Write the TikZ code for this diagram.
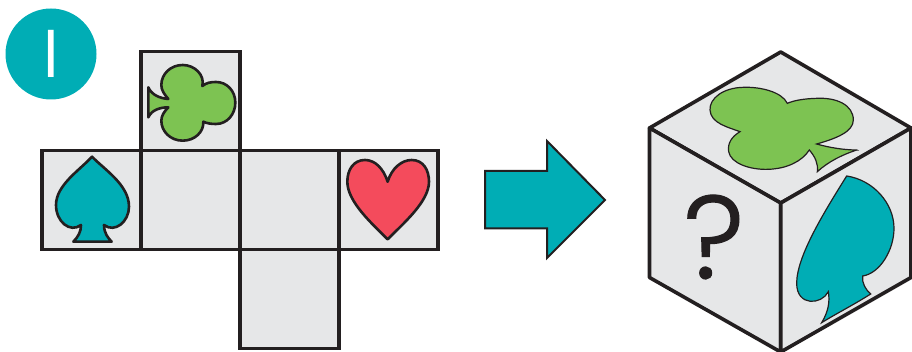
\documentclass[tikz,border=0pt]{standalone}
\usepackage{fontspec}
\newfontfamily\markfont[UprightFont={* Light},FakeBold=1]{Poppins}
\usepackage{tikz}
\usetikzlibrary{positioning}
\definecolor{cardgray}{HTML}{E6E7E8}
\definecolor{cardline}{HTML}{231F20}
\definecolor{cardteal}{HTML}{00ADB5}
\definecolor{cardgreen}{HTML}{7DC352}
\definecolor{cardred}{HTML}{F44B5C}
\tikzset{
cell/.style={draw=cardline,fill=cardgray,line width=3.6pt,minimum size=99pt,inner sep=0pt}, % one square of the net
suit/.style={draw=cardline,line width=2.6pt,line join=round},
cubesuit/.style={draw=cardline,line width=1.2pt,line join=miter},
face/.style={draw=cardline,fill=cardgray,line width=3.6pt,line join=round},
}

\begin{document}
\begin{tikzpicture}[x=1pt,y=-1pt,node distance=99pt,on grid]
    \useasboundingbox (0,0) rectangle (912,352);
    \node[circle,fill=cardteal,minimum size=91pt,inner sep=0pt,text=white] (badge) at (51,54)
        {\sffamily\fontsize{68}{68}\selectfont I};
    % the net
    \node[cell] (c_1) at (91.5,200) {};
    \node[cell] (c_2) [right=of c_1] {};
    \node[cell] (c_3) [right=of c_2] {};
    \node[cell] (c_4) [right=of c_3] {};
    \node[cell] (c_5) [above=of c_2] {};
    \node[cell] (c_6) [below=of c_3] {};
    % suits on the net
    \begin{scope}[scale=1/3]
    \draw[suit,fill=cardgreen] (445,262) .. controls (455,285) and (480,295) .. (505,297)
        .. controls (492,282) and (484,270) .. (484,255)
        .. controls (484,222) and (512,195) .. (548,195)
        .. controls (584,195) and (615,225) .. (607,258)
        .. controls (620,248) and (632,246) .. (648,246)
        .. controls (682,246) and (706,274) .. (706,308)
        .. controls (706,342) and (682,372) .. (648,372)
        .. controls (633,372) and (620,370) .. (610,365)
        .. controls (612,395) and (585,422) .. (548,422)
        .. controls (512,422) and (484,395) .. (484,362)
        .. controls (484,348) and (492,335) .. (505,322)
        .. controls (480,322) and (455,330) .. (445,352) -- cycle;
    \end{scope}
    \begin{scope}[shift={(30,140)},scale=1/3]
    \draw[suit,fill=cardteal] (186,50) .. controls (225,90) and (297,135) .. (297,200)
        .. controls (297,245) and (255,280) .. (222,255)
        .. controls (222,280) and (235,295) .. (245,305)
        -- (130,305) .. controls (145,290) and (153,275) .. (153,255)
        .. controls (120,280) and (78,245) .. (78,195)
        .. controls (78,135) and (150,90) .. cycle;
    \end{scope}
    \begin{scope}[shift={(330,140)},scale=1/3]
    \draw[suit,fill=cardred] (173,125) .. controls (185,85) and (215,60) .. (245,60)
        .. controls (280,60) and (297,90) .. (297,125)
        .. controls (297,185) and (220,250) .. (173,298)
        .. controls (125,250) and (52,185) .. (52,125)
        .. controls (52,90) and (70,60) .. (105,60)
        .. controls (135,60) and (160,85) .. cycle;
    \end{scope}
    % the arrow
    \draw[draw=cardline,fill=cardteal,line width=2pt,line join=miter]
        (485,171) -- (547,171) -- (547,141) -- (605,200) -- (547,258) -- (547,228.5) -- (485,228.5) -- cycle;
    % the cube
    \coordinate (top) at (780.7,52);
    \coordinate (left) at (649.5,128);
    \coordinate (right) at (911,128);
    \coordinate (mid) at (780.7,203);
    \coordinate (botleft) at (649.5,277.5);
    \coordinate (botright) at (911,277.5);
    \coordinate (bot) at (780.7,352);
    \draw[face] (top) -- (right) -- (mid) -- (left) -- cycle;
    \draw[face] (left) -- (mid) -- (bot) -- (botleft) -- cycle;
    \draw[face] (mid) -- (right) -- (botright) -- (bot) -- cycle;
    \node[text=cardline] (mark) at (714,237) {\markfont\fontsize{118}{118}\selectfont ?};
    \begin{scope}[shift={(640,40)},scale=1/3]
    \draw[cubesuit,fill=cardgreen] (650,330) .. controls (610,330) and (565,322) .. (530,312)
        .. controls (590,295) and (640,275) .. (640,240)
        .. controls (640,195) and (590,172) .. (530,175)
        .. controls (490,176) and (460,182) .. (442,190)
        .. controls (425,155) and (360,140) .. (310,142)
        .. controls (250,143) and (208,175) .. (210,210)
        .. controls (212,250) and (265,262) .. (300,275)
        .. controls (275,290) and (262,310) .. (266,335)
        .. controls (272,370) and (330,390) .. (385,388)
        .. controls (440,386) and (485,365) .. (508,330)
        .. controls (525,350) and (535,370) .. (532,395)
        .. controls (565,365) and (605,345) .. cycle;
    \end{scope}
    \begin{scope}[shift={(640,170)},scale=1/3]
    \draw[cubesuit,fill=cardteal] (620,18) .. controls (700,30) and (762,100) .. (762,175)
        .. controls (762,240) and (720,310) .. (668,318)
        .. controls (665,340) and (678,360) .. (692,372)
        .. controls (640,405) and (590,430) .. (545,458)
        .. controls (565,425) and (570,395) .. (565,365)
        .. controls (545,405) and (470,410) .. (470,340)
        .. controls (470,260) and (550,130) .. cycle;
    \end{scope}
\end{tikzpicture}
\end{document}
